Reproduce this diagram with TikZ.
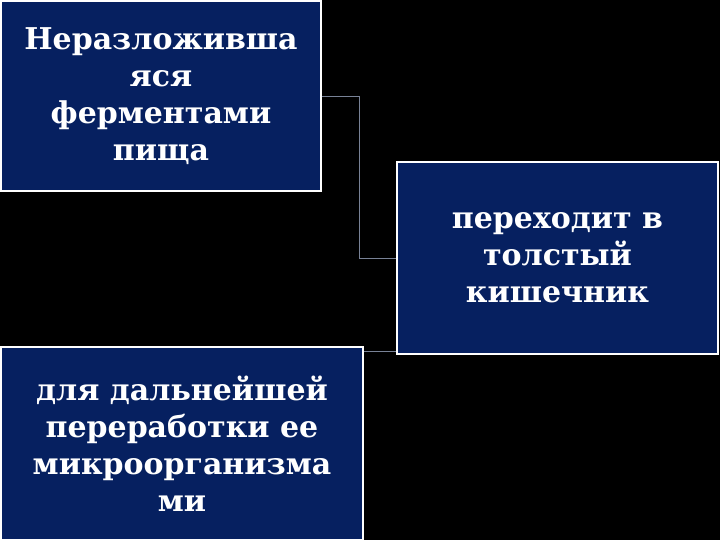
\documentclass[tikz,border=0pt]{standalone}
\usepackage{fontspec}
\setmainfont{DejaVu Serif}
\usepackage{tikz}
\usetikzlibrary{shapes,arrows,positioning}

\definecolor{navy}{RGB}{6,32,96}
\definecolor{linkgray}{RGB}{120,130,150}

\begin{document}
\begin{tikzpicture}[
	x=1pt, y=-1pt,
	box/.style={rectangle,draw=white,line width=2pt,fill=navy,text=white,
		align=center,inner sep=0pt,font=\fontsize{30}{37}\selectfont\bfseries},
	link/.style={draw=linkgray,line width=0.8pt}
	]
	\useasboundingbox [fill=black] (0,0) rectangle (720,540);
	\node [box,minimum width=320pt,minimum height=190pt,name=A] (A) at (161,96) {Неразложивша\\яся\\ферментами\\пища};
	\node [box,minimum width=321pt,minimum height=192pt,name=B] (B) at (557.5,258) {переходит в\\толстый\\кишечник};
	\node [box,minimum width=362pt,minimum height=193pt,name=C] (C) at (182,443.5) {для дальнейшей\\переработки ее\\микроорганизма\\ми};
	\draw [link] (A.east) -- ++(37,0) |- (B.west);
	\draw [link] ([yshift=-5pt]C.north east) -- ([yshift=-5pt]C.north east -| B.west);
\end{tikzpicture}
\end{document}
